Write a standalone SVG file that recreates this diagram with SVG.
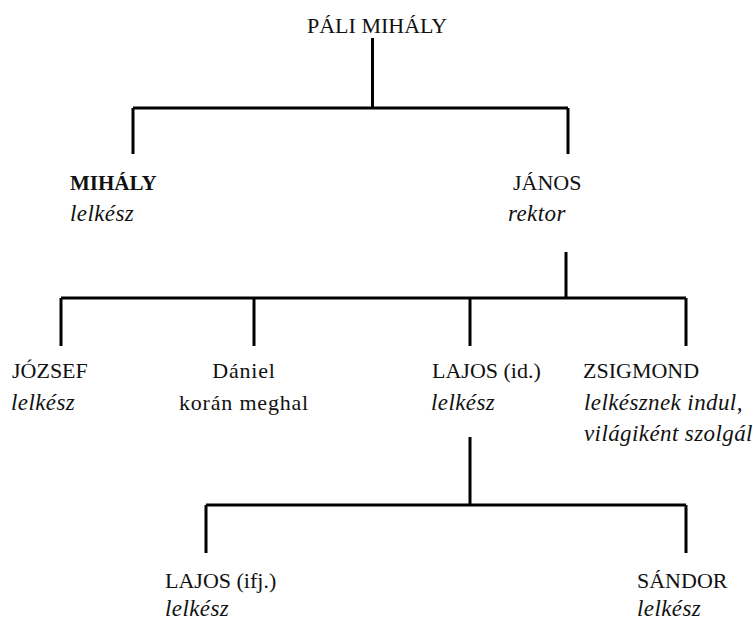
<svg xmlns="http://www.w3.org/2000/svg" width="753" height="622" viewBox="0 0 753 622">
<style>
  text { font-family: 'Liberation Serif', 'Times New Roman', serif; font-size: 22px; fill: #111; }
  .b { font-weight: bold; font-size: 21px; }
  .i { font-style: italic; font-size: 23px; letter-spacing: 0.4px; }
  .w { letter-spacing: 0.8px; }
  .ln { stroke: #000; stroke-width: 3; fill: none; stroke-linecap: butt; }
</style>
<rect width="753" height="622" fill="#fff"/>
<g id="connectors">
  <path class="ln" d="M372.5,38 V108 M133,108 H568 M133,108 V154 M568,108 V154"/>
  <path class="ln" d="M566,252 V298 M61,298 H686 M61,298 V346 M254,298 V346 M470,298 V346 M686,298 V346"/>
  <path class="ln" d="M470,437 V505 M206,505 H686 M206,505 V553 M686,505 V553"/>
</g>
<g id="pali-mihaly"><text x="307" y="33">PÁLI MIHÁLY</text></g>
<g id="mihaly">
  <text class="b" x="70" y="190">MIHÁLY</text>
  <text class="i" x="70" y="221">lelkész</text>
</g>
<g id="janos">
  <text x="513" y="190">JÁNOS</text>
  <text class="i" x="508" y="221">rektor</text>
</g>
<g id="jozsef">
  <text x="12" y="378">JÓZSEF</text>
  <text class="i" x="11" y="410">lelkész</text>
</g>
<g id="daniel">
  <text class="w" x="244" y="378" text-anchor="middle">Dániel</text>
  <text class="w" x="244" y="410" text-anchor="middle">korán meghal</text>
</g>
<g id="lajos-id">
  <text x="432" y="378">LAJOS (id.)</text>
  <text class="i" x="431" y="410">lelkész</text>
</g>
<g id="zsigmond">
  <text x="583" y="378">ZSIGMOND</text>
  <text class="i" x="584" y="410">lelkésznek indul,</text>
  <text class="i" x="584" y="441">világiként szolgál</text>
</g>
<g id="lajos-ifj">
  <text x="165" y="588">LAJOS (ifj.)</text>
  <text class="i" x="165" y="616">lelkész</text>
</g>
<g id="sandor">
  <text x="637" y="588">SÁNDOR</text>
  <text class="i" x="637" y="616">lelkész</text>
</g>
</svg>
